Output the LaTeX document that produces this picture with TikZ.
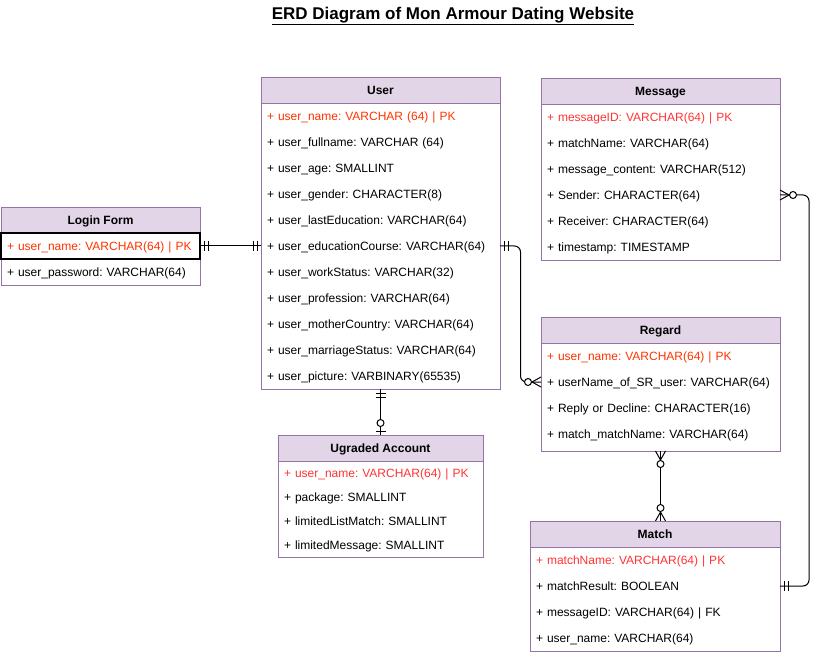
\documentclass[tikz,border=0pt]{standalone}
\usepackage{fontspec}
\setmainfont{Liberation Sans}
\frenchspacing
\usetikzlibrary{calc,positioning,decorations.markings}
\definecolor{headfill}{HTML}{E1D5E7}
\definecolor{headline}{HTML}{9673A6}
\definecolor{pkorange}{HTML}{FF3300}
\definecolor{pkred}{HTML}{FF3333}
\newcommand{\pk}[1]{\textcolor{pkorange}{#1}}
\newcommand{\pkr}[1]{\textcolor{pkred}{#1}}

% table: name, left, top, width, row height, bottom, title, rows
\newcommand{\erdtable}[8]{%
  \node[erdhead, minimum width=#4, anchor=north west] (#1-0) at (#2,#3) {#7};
  \foreach \rowtext [count=\i, remember=\i as \j (initially 0)] in {#8}
    \node[erdrow, text width=#4-12, minimum height=#5, below=0pt of #1-\j] (#1-\i) {\rowtext};
  \node[erdbox, minimum width=#4, minimum height=#6-#3, anchor=north west] (#1-box) at (#2,#3) {};
}

\tikzset{
  erdhead/.style={draw=headline, fill=headfill, line width=0.9pt, font=\bfseries\fontsize{12}{14}\selectfont,
    minimum height=26, inner sep=0pt, outer sep=0pt, text height=10pt, text depth=1.5pt},
  erdrow/.style={inner xsep=6pt, inner ysep=0pt, outer sep=0pt, align=left, text height=10pt, text depth=1.5pt},
  erdbox/.style={draw=headline, line width=0.9pt, inner sep=0pt, outer sep=0pt},
  erdedge/.style={draw, line width=1pt, rounded corners=6pt},
  mandone start/.style={postaction={decorate, decoration={markings,
      mark=at position 4pt with {\draw (0,-5pt) -- (0,5pt);},
      mark=at position 8pt with {\draw (0,-5pt) -- (0,5pt);}}}},
  mandone end/.style={postaction={decorate, decoration={markings,
      mark=at position -8pt with {\draw (0,-5pt) -- (0,5pt);},
      mark=at position -4pt with {\draw (0,-5pt) -- (0,5pt);}}}},
  zeromany start/.style={postaction={decorate, decoration={markings,
      mark=at position 9pt with {\draw (0,0) -- (-9pt,5pt) (0,0) -- (-9pt,-5pt);
        \draw[fill=white] (4pt,0) circle[radius=3.5pt];}}}},
  zeromany end/.style={postaction={decorate, decoration={markings,
      mark=at position -9pt with {\draw (0,0) -- (9pt,5pt) (0,0) -- (9pt,-5pt);
        \draw[fill=white] (-4pt,0) circle[radius=3.5pt];}}}},
  zeroone end/.style={postaction={decorate, decoration={markings,
      mark=at position -12pt with {\draw[fill=white] (0,0) circle[radius=3.5pt];},
      mark=at position -4pt with {\draw (0,-5pt) -- (0,5pt);}}}}
}

\begin{document}
\begin{tikzpicture}[x=1pt, y=-1pt, font=\fontsize{12}{14}\selectfont]
  \useasboundingbox (0,0) rectangle (820,655);
  \node[font=\bfseries\fontsize{17}{20}\selectfont] (title) at (453,16) {\underline{ERD Diagram of Mon Armour Dating Website}};

  \erdtable{login}{1}{207}{199}{26}{285}{Login Form}{
    \pk{+ user\_name: VARCHAR(64) | PK},
    + user\_password: VARCHAR(64)}
  \draw[line width=1.2pt] (login-1.north west) rectangle (login-1.south east);

  \erdtable{user}{261}{77}{239}{26}{389}{User}{
    \pk{+ user\_name: VARCHAR (64) | PK},
    + user\_fullname: VARCHAR (64),
    + user\_age: SMALLINT,
    + user\_gender: CHARACTER(8),
    + user\_lastEducation: VARCHAR(64),
    + user\_educationCourse: VARCHAR(64),
    + user\_workStatus: VARCHAR(32),
    + user\_profession: VARCHAR(64),
    + user\_motherCountry: VARCHAR(64),
    + user\_marriageStatus: VARCHAR(64),
    + user\_picture: VARBINARY(65535)}

  \erdtable{message}{541}{78}{239}{26}{260}{Message}{
    \pkr{+ messageID: VARCHAR(64) | PK},
    + matchName: VARCHAR(64),
    + message\_content: VARCHAR(512),
    + Sender: CHARACTER(64),
    + Receiver: CHARACTER(64),
    + timestamp: TIMESTAMP}

  \erdtable{regard}{541}{317}{239}{26}{451}{Regard}{
    \pk{+ user\_name: VARCHAR(64) | PK},
    + userName\_of\_SR\_user: VARCHAR(64),
    + Reply or Decline: CHARACTER(16),
    + match\_matchName: VARCHAR(64)}

  \erdtable{ugraded}{278}{435}{205}{24}{557}{Ugraded Account}{
    \pkr{+ user\_name: VARCHAR(64) | PK},
    + package: SMALLINT,
    + limitedListMatch: SMALLINT,
    + limitedMessage: SMALLINT}

  \erdtable{match}{530}{521}{250}{26}{651}{Match}{
    \pkr{+ matchName: VARCHAR(64) | PK},
    + matchResult: BOOLEAN,
    + messageID: VARCHAR(64) | FK,
    + user\_name: VARCHAR(64)}

  % relations
  \draw[erdedge, mandone start, mandone end] (login-1.east) -- (user-6.west);
  \draw[erdedge, mandone start, zeromany end] (user-6.east) -| ($(user-6.east)!0.5!(regard-2.west)$) |- (regard-2.west);
  \draw[erdedge, mandone start, zeroone end] (user-box.south) -- (ugraded-box.north);
  \draw[erdedge, zeromany start, zeromany end] (regard-box.south) -- (regard-box.south |- match-box.north);
  \draw[erdedge, zeromany start, mandone end] (message-4.east) -| ([xshift=29pt]match-2.east) -- (match-2.east);
\end{tikzpicture}
\end{document}
